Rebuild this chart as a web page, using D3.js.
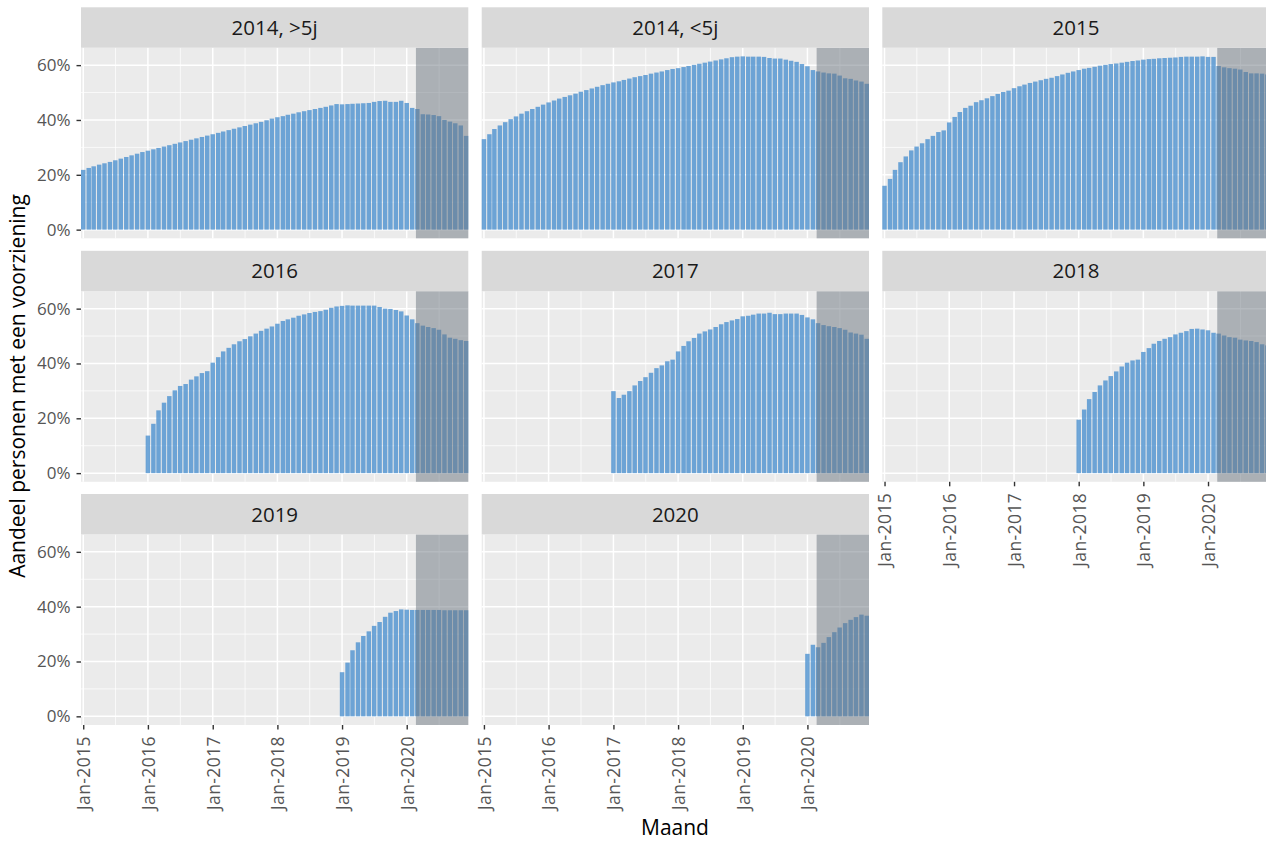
<!DOCTYPE html>
<html>
<head>
<meta charset="utf-8">
<script src="https://cdn.jsdelivr.net/npm/d3@7"></script>
<style>
  body { margin: 0; background: #fff; }
  text { font-family: "Open Sans", "Noto Sans", sans-serif; }
</style>
</head>
<body>
<svg id="chart" width="1266" height="841"></svg>
<script>
// facet labels and first month with data for each facet
var panelNames = ["2014, >5j", "2014, <5j", "2015", "2016", "2017", "2018", "2019", "2020"];
var panelStart = ["2015-01", "2015-01", "2015-01", "2016-01", "2017-01", "2018-01", "2019-01", "2020-01"];

// share of persons with a provision (%), one value per month
var share2014a = [
  21.8, 22.5, 23.1, 23.7, 24.2, 24.7, 25.3, 25.9, 26.5, 27.1, 27.7, 28.3,
  28.8, 29.3, 29.8, 30.3, 30.8, 31.3, 31.8, 32.3, 32.8, 33.3, 33.8, 34.3,
  34.8, 35.3, 35.8, 36.3, 36.8, 37.3, 37.8, 38.3, 38.8, 39.3, 39.9, 40.5,
  41.0, 41.4, 41.9, 42.3, 42.8, 43.2, 43.6, 44.0, 44.4, 44.8, 45.3, 45.8,
  45.7, 45.8, 45.9, 46.0, 46.1, 46.2, 46.6, 46.9, 47.0, 46.6, 46.6, 47.0,
  46.2, 44.4, 44.0, 42.1, 42.0, 41.8, 41.4, 40.0, 39.4, 38.8, 38.0, 34.2];
var share2014b = [
  33.0, 34.8, 36.7, 38.0, 39.2, 40.3, 41.3, 42.3, 43.2, 44.0, 44.8, 45.6,
  46.4, 47.1, 47.8, 48.4, 49.0, 49.6, 50.3, 50.9, 51.5, 52.1, 52.7, 53.2,
  53.7, 54.1, 54.6, 55.1, 55.6, 56.0, 56.4, 56.9, 57.3, 57.7, 58.2, 58.6,
  58.9, 59.3, 59.7, 60.1, 60.5, 60.9, 61.3, 61.7, 62.1, 62.5, 62.9, 63.1,
  63.2, 63.1, 63.1, 63.1, 63.0, 62.6, 62.4, 62.4, 62.0, 61.6, 61.2, 60.4,
  59.6, 58.2, 57.7, 57.3, 57.0, 56.9, 56.2, 55.2, 55.0, 54.4, 54.0, 53.2];
var share2015 = [
  16.0, 18.5, 21.8, 24.6, 26.7, 28.9, 30.3, 31.5, 33.0, 34.2, 35.6, 36.2,
  39.1, 41.1, 42.9, 44.4, 45.2, 46.5, 47.2, 47.9, 48.7, 49.5, 50.2, 50.7,
  51.6, 52.3, 52.9, 53.5, 54.0, 54.5, 55.0, 55.4, 56.0, 56.6, 57.2, 57.7,
  58.2, 58.7, 59.0, 59.4, 59.8, 60.1, 60.4, 60.6, 60.9, 61.2, 61.5, 61.7,
  62.0, 62.2, 62.3, 62.5, 62.6, 62.7, 62.8, 63.0, 63.1, 63.1, 63.1, 63.2,
  63.0, 63.0, 59.7, 59.2, 58.9, 58.7, 58.4, 57.5, 57.0, 57.0, 56.9, 56.6];
var share2016 = [
  13.7, 18.0, 22.9, 25.7, 28.1, 30.2, 31.8, 32.5, 34.1, 35.3, 36.5, 37.2,
  40.3, 42.3, 44.4, 45.7, 47.0, 48.1, 48.9, 49.9, 50.9, 51.9, 52.7, 53.5,
  54.5, 55.5, 56.1, 56.7, 57.4, 57.9, 58.4, 58.8, 59.1, 59.6, 60.3, 60.8,
  61.0, 61.2, 61.1, 61.1, 61.1, 61.1, 61.1, 60.6, 60.0, 59.9, 59.5, 59.0,
  57.5, 56.1, 54.7, 53.8, 53.3, 52.9, 52.3, 50.6, 49.4, 49.0, 48.5, 48.2];
var share2017 = [
  29.9, 27.4, 28.6, 29.9, 32.0, 33.6, 35.0, 36.6, 38.3, 39.3, 40.8, 41.4,
  44.4, 46.4, 48.1, 49.3, 50.9, 51.7, 52.4, 53.3, 54.3, 55.1, 55.7, 56.2,
  57.2, 57.4, 57.8, 58.2, 58.2, 58.5, 58.0, 58.0, 58.2, 58.2, 58.2, 57.7,
  56.8, 56.1, 54.7, 54.0, 53.6, 53.3, 52.9, 52.3, 51.3, 50.9, 50.5, 49.0];
var share2018 = [
  19.5, 23.2, 27.0, 29.6, 32.0, 33.8, 35.4, 37.1, 38.9, 40.3, 41.1, 41.4,
  44.2, 45.6, 47.2, 48.2, 49.0, 49.6, 50.6, 51.2, 51.8, 52.6, 52.7, 52.4,
  52.1, 51.2, 50.9, 50.2, 49.6, 49.4, 48.7, 48.4, 48.2, 47.8, 47.0, 46.6];
var share2019 = [
  16.1, 19.6, 24.1, 27.0, 29.3, 31.0, 33.0, 34.4, 36.3, 37.8, 38.4, 39.0,
  38.9, 38.8, 38.8, 38.8, 38.8, 38.8, 38.8, 38.7, 38.7, 38.7, 38.7, 38.7];
var share2020 = [22.8, 26.1, 25.2, 26.8, 28.9, 30.7, 32.4, 34.0, 35.2, 36.2, 37.1, 36.7];

var panelValues = [share2014a, share2014b, share2015, share2016, share2017, share2018, share2019, share2020];

var firstMonth = "2015-01-01", lastMonth = "2020-12-01";
var shadeFrom = "2020-02-22";
var yTicks = [0, 20, 40, 60];
var yMinor = [10, 30, 50];

var parseDay = d3.utcParse("%Y-%m-%d");
var parseMonth = d3.utcParse("%Y-%m");
var DAY = 864e5;

var svg = d3.select("#chart");
svg.append("rect").attr("width", 1266).attr("height", 841).attr("fill", "#fff");

// facet layout
var colX = [81, 481.7, 882.3], panelW = 387.3;
var rowTop = [7.3, 250.8, 494], stripH = 40.4, panelH = 190.6;

var t0 = parseDay(firstMonth), t1 = parseDay(lastMonth);
var halfBar = 12.6 * DAY;
var x = d3.scaleUtc()
    .domain([new Date(+t0 - halfBar), new Date(+t1 + halfBar)])
    .range([0, panelW]);
var barW = x(new Date(+t0 + 2 * halfBar)) - x(t0);

var allVals = d3.merge(panelValues);
var yMax = d3.max(allVals);
var y = d3.scaleLinear()
    .domain([-0.05 * yMax, yMax * 1.05])
    .range([panelH, 0]);

var years = d3.utcYear.range(t0, d3.utcYear.offset(t0, 6));
var xMinor = years.map(function(d) {
  return new Date((+d + +d3.utcYear.offset(d, 1)) / 2);
});
var fmt = d3.utcFormat("%b-%Y");

panelNames.forEach(function(name, i) {
  var row = Math.floor(i / 3), col = i % 3;
  var g = svg.append("g")
      .attr("transform", "translate(" + colX[col] + "," + (rowTop[row] + stripH) + ")");

  // strip
  svg.append("rect")
      .attr("x", colX[col]).attr("y", rowTop[row])
      .attr("width", panelW).attr("height", stripH)
      .attr("fill", "#d9d9d9");
  svg.append("text")
      .attr("x", colX[col] + panelW / 2).attr("y", rowTop[row] + stripH / 2)
      .attr("dy", "0.36em")
      .attr("text-anchor", "middle")
      .attr("font-size", 20.5)
      .attr("fill", "#1a1a1a")
      .text(name);

  // panel background + grid
  g.append("rect").attr("width", panelW).attr("height", panelH).attr("fill", "#ebebeb");
  g.selectAll(".ymin").data(yMinor).enter().append("line")
      .attr("x1", 0).attr("x2", panelW)
      .attr("y1", function(d) { return y(d); }).attr("y2", function(d) { return y(d); })
      .attr("stroke", "#fff").attr("stroke-width", 0.75);
  g.selectAll(".xmin").data(xMinor).enter().append("line")
      .attr("y1", 0).attr("y2", panelH)
      .attr("x1", function(d) { return x(d); }).attr("x2", function(d) { return x(d); })
      .attr("stroke", "#fff").attr("stroke-width", 0.75);
  g.selectAll(".ymaj").data(yTicks).enter().append("line")
      .attr("x1", 0).attr("x2", panelW)
      .attr("y1", function(d) { return y(d); }).attr("y2", function(d) { return y(d); })
      .attr("stroke", "#fff").attr("stroke-width", 1.5);
  g.selectAll(".xmaj").data(years).enter().append("line")
      .attr("y1", 0).attr("y2", panelH)
      .attr("x1", function(d) { return x(d); }).attr("x2", function(d) { return x(d); })
      .attr("stroke", "#fff").attr("stroke-width", 1.5);

  // bars
  var start = parseMonth(panelStart[i]);
  var data = panelValues[i].map(function(v, k) {
    return { date: d3.utcMonth.offset(start, k), value: v };
  });
  g.selectAll(".bar").data(data).enter().append("rect")
      .attr("x", function(d) { return x(d.date) - barW / 2; })
      .attr("width", barW)
      .attr("y", function(d) { return y(d.value); })
      .attr("height", function(d) { return y(0) - y(d.value); })
      .attr("fill", "#4c91cf")
      .attr("fill-opacity", 0.8);

  // shaded period
  var xs = x(parseDay(shadeFrom));
  g.append("rect")
      .attr("x", xs).attr("width", panelW - xs)
      .attr("y", 0).attr("height", panelH)
      .attr("fill", "#6b7680").attr("fill-opacity", 0.5);

  // y axis on first column
  if (col === 0) {
    var ya = g.append("g").call(d3.axisLeft(y).tickValues(yTicks)
        .tickFormat(function(d) { return d + "%"; }).tickSize(4.5).tickPadding(6));
    ya.select(".domain").remove();
    ya.selectAll("line").attr("stroke", "#333").attr("stroke-width", 1.4);
    ya.selectAll("text").attr("font-size", 17).attr("fill", "#555")
      .style("font-family", "'Open Sans', sans-serif");
  }
  // x axis where no facet sits below
  if (i >= 5) {
    var xa = g.append("g").attr("transform", "translate(0," + panelH + ")")
        .call(d3.axisBottom(x).tickValues(years).tickFormat(fmt).tickSize(4.5).tickPadding(6));
    xa.select(".domain").remove();
    xa.selectAll("line").attr("stroke", "#333").attr("stroke-width", 1.4);
    xa.selectAll("text")
        .attr("font-size", 17.5).attr("fill", "#555")
        .style("font-family", "'Open Sans', sans-serif")
        .style("letter-spacing", "0.4px")
        .attr("transform", "rotate(-90)")
        .attr("text-anchor", "end")
        .attr("x", -11).attr("y", 0).attr("dy", "0.36em");
  }
});

// axis titles
svg.append("text")
    .attr("transform", "translate(25,386) rotate(-90)")
    .attr("text-anchor", "middle")
    .attr("font-size", 21)
    .attr("fill", "#000")
    .text("Aandeel personen met een voorziening");
svg.append("text")
    .attr("x", 675).attr("y", 835)
    .attr("text-anchor", "middle")
    .attr("font-size", 21)
    .attr("fill", "#000")
    .text("Maand");
</script>
</body>
</html>
